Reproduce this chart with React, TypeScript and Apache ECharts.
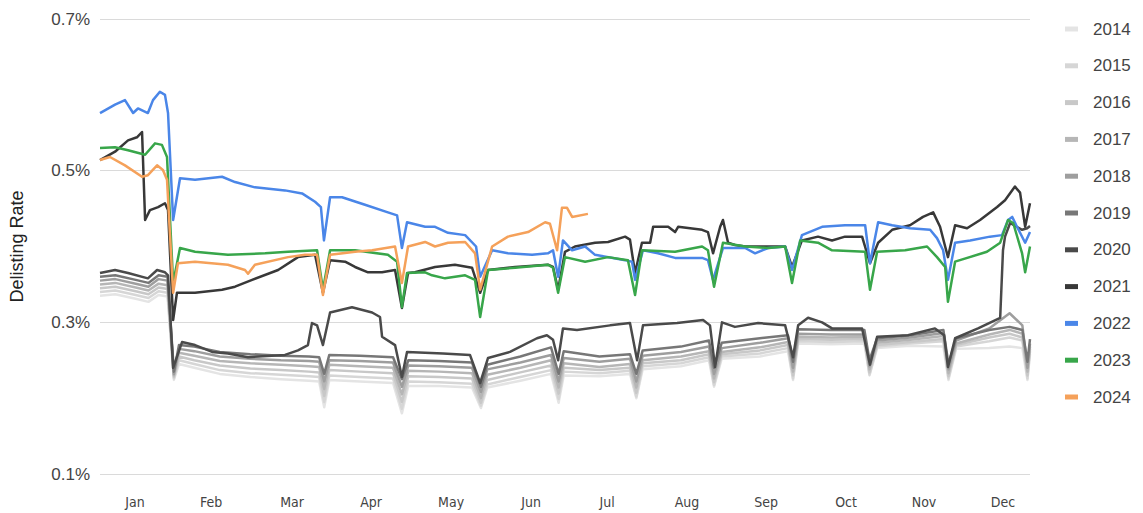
import React, { useEffect, useRef } from "react";
import * as echarts from "echarts";

const years = ["2014", "2015", "2016", "2017", "2018", "2019", "2020", "2021", "2022", "2023", "2024"];
const lineColors = ["#e4e4e4", "#d6d6d6", "#c8c8c8", "#b6b6b6", "#9e9e9e", "#777777", "#4a4a4a", "#383838", "#4a86e8", "#38a64a", "#f5a15a"];
const monthNames = ["Jan", "Feb", "Mar", "Apr", "May", "Jun", "Jul", "Aug", "Sep", "Oct", "Nov", "Dec"];
const monthLabelDays = [13.7, 43.6, 75.4, 106.4, 137.8, 169.2, 199, 230.4, 261.4, 292.8, 323.4, 354.4];
const yTicks = [0.1, 0.3, 0.5, 0.7];

// day-of-year positions shared by the 2014-2019 series
const grayDays = [0, 6, 14, 19, 23, 26.5, 29, 31, 37, 47, 59, 71, 82, 86, 88, 90, 102, 115, 118.5, 121, 133, 146, 149.5, 152, 165, 177, 180, 182, 196, 208, 210.5, 213, 228, 239, 241, 244, 259, 270, 272, 274, 287, 300, 302, 305, 318, 331, 333, 336, 349, 357, 362, 364, 365];

const rate2014 = [0.335, 0.337, 0.331, 0.327, 0.336, 0.334, 0.224, 0.245, 0.240, 0.232, 0.228, 0.225, 0.223, 0.222, 0.188, 0.224, 0.222, 0.220, 0.180, 0.216, 0.216, 0.214, 0.187, 0.214, 0.223, 0.232, 0.194, 0.230, 0.229, 0.232, 0.200, 0.238, 0.242, 0.250, 0.215, 0.252, 0.255, 0.262, 0.224, 0.272, 0.271, 0.272, 0.230, 0.266, 0.269, 0.268, 0.224, 0.265, 0.266, 0.268, 0.266, 0.224, 0.258];
const rate2015 = [0.340, 0.342, 0.336, 0.332, 0.341, 0.339, 0.226, 0.250, 0.245, 0.237, 0.233, 0.231, 0.229, 0.228, 0.195, 0.230, 0.228, 0.226, 0.186, 0.222, 0.221, 0.219, 0.190, 0.218, 0.228, 0.237, 0.199, 0.235, 0.233, 0.236, 0.202, 0.242, 0.246, 0.254, 0.217, 0.255, 0.259, 0.266, 0.226, 0.275, 0.274, 0.275, 0.231, 0.268, 0.272, 0.275, 0.226, 0.268, 0.275, 0.280, 0.276, 0.226, 0.262];
const rate2016 = [0.345, 0.347, 0.341, 0.337, 0.346, 0.344, 0.228, 0.255, 0.250, 0.243, 0.239, 0.237, 0.235, 0.234, 0.203, 0.237, 0.235, 0.233, 0.195, 0.229, 0.228, 0.226, 0.194, 0.224, 0.234, 0.243, 0.206, 0.240, 0.237, 0.240, 0.207, 0.246, 0.250, 0.258, 0.221, 0.258, 0.263, 0.270, 0.230, 0.278, 0.277, 0.278, 0.234, 0.270, 0.274, 0.278, 0.229, 0.270, 0.280, 0.285, 0.280, 0.230, 0.265];
const rate2017 = [0.350, 0.352, 0.346, 0.342, 0.351, 0.349, 0.230, 0.260, 0.256, 0.249, 0.246, 0.244, 0.242, 0.241, 0.212, 0.244, 0.242, 0.240, 0.205, 0.236, 0.235, 0.233, 0.200, 0.231, 0.240, 0.250, 0.214, 0.246, 0.241, 0.245, 0.214, 0.250, 0.255, 0.262, 0.226, 0.261, 0.267, 0.274, 0.235, 0.281, 0.280, 0.281, 0.238, 0.273, 0.277, 0.282, 0.233, 0.272, 0.284, 0.290, 0.285, 0.235, 0.268];
const rate2018 = [0.355, 0.357, 0.351, 0.347, 0.357, 0.355, 0.232, 0.265, 0.262, 0.255, 0.252, 0.250, 0.249, 0.248, 0.222, 0.250, 0.249, 0.247, 0.215, 0.243, 0.242, 0.240, 0.208, 0.238, 0.247, 0.257, 0.222, 0.253, 0.248, 0.252, 0.222, 0.256, 0.261, 0.268, 0.232, 0.266, 0.273, 0.279, 0.240, 0.285, 0.284, 0.284, 0.242, 0.276, 0.280, 0.286, 0.238, 0.276, 0.292, 0.312, 0.296, 0.240, 0.272];
const rate2019 = [0.360, 0.362, 0.356, 0.352, 0.362, 0.360, 0.235, 0.270, 0.268, 0.261, 0.258, 0.256, 0.255, 0.254, 0.232, 0.257, 0.256, 0.254, 0.225, 0.250, 0.249, 0.247, 0.215, 0.244, 0.255, 0.267, 0.232, 0.262, 0.255, 0.258, 0.232, 0.263, 0.268, 0.276, 0.240, 0.273, 0.279, 0.283, 0.248, 0.291, 0.290, 0.290, 0.250, 0.279, 0.283, 0.290, 0.245, 0.279, 0.290, 0.294, 0.290, 0.248, 0.278];

// [day of year, rate in %]
const rate2020 = [[0, 0.365], [5.9, 0.369], [11, 0.365], [18.8, 0.358], [22.4, 0.369], [25.5, 0.366], [26.7, 0.362], [28.7, 0.240], [32.2, 0.274], [37.3, 0.270], [44, 0.261], [50.2, 0.259], [58.1, 0.254], [72.6, 0.257], [77.7, 0.263], [81.6, 0.270], [83.2, 0.299], [85.2, 0.296], [87.5, 0.270], [90.3, 0.313], [98.9, 0.320], [106.8, 0.313], [109.9, 0.307], [110.7, 0.281], [115.8, 0.270], [118.5, 0.228], [120.5, 0.261], [134.6, 0.259], [145.2, 0.257], [149.2, 0.220], [152.3, 0.253], [160.9, 0.261], [171.5, 0.279], [175.4, 0.283], [177.8, 0.277], [179.8, 0.250], [181.7, 0.292], [187.2, 0.290], [200.2, 0.296], [208, 0.299], [210.8, 0.250], [213.1, 0.296], [226.5, 0.299], [236.7, 0.303], [239.4, 0.296], [241.4, 0.241], [244.1, 0.300], [249.2, 0.294], [258.3, 0.299], [268.9, 0.296], [272, 0.254], [274, 0.296], [277.9, 0.306], [283.4, 0.300], [287.3, 0.292], [299.1, 0.292], [302.2, 0.244], [305, 0.281], [317.1, 0.283], [327.7, 0.292], [331.3, 0.283], [332.8, 0.241], [335.6, 0.279], [344.6, 0.292], [353.3, 0.306], [354.4, 0.395], [355.2, 0.413], [357.2, 0.431], [361.9, 0.422], [363.9, 0.424], [365, 0.427]];

const rate2021 = [[0, 0.514], [5.9, 0.525], [11, 0.540], [14.5, 0.544], [16.5, 0.551], [17.7, 0.435], [19.6, 0.448], [22.8, 0.452], [25.5, 0.457], [26.7, 0.448], [28.7, 0.303], [30.2, 0.339], [37.3, 0.339], [47.9, 0.343], [53, 0.347], [59.7, 0.356], [69.9, 0.369], [77.7, 0.386], [84.4, 0.389], [87.5, 0.339], [90.3, 0.382], [96.2, 0.380], [100.1, 0.373], [105.2, 0.366], [110.7, 0.366], [115.8, 0.369], [118.5, 0.319], [120.9, 0.365], [123.6, 0.366], [131.5, 0.373], [139.3, 0.376], [146, 0.372], [149.2, 0.339], [152.3, 0.369], [162.9, 0.373], [175.8, 0.376], [177.8, 0.373], [179.8, 0.343], [182.5, 0.393], [186.4, 0.400], [194.3, 0.405], [199.4, 0.406], [206.1, 0.413], [208, 0.409], [210, 0.365], [212.7, 0.405], [215.9, 0.405], [217.1, 0.426], [223, 0.426], [225.7, 0.419], [226.9, 0.426], [236.3, 0.422], [238.6, 0.419], [240.6, 0.391], [243.4, 0.426], [244.5, 0.435], [246.5, 0.405], [249.2, 0.402], [253.2, 0.400], [268.9, 0.400], [271.6, 0.373], [275.5, 0.408], [281.8, 0.413], [287.3, 0.408], [292.4, 0.413], [299.1, 0.413], [302.2, 0.378], [305.4, 0.405], [310.9, 0.422], [317.9, 0.428], [323, 0.439], [327, 0.445], [329.7, 0.426], [331.7, 0.400], [332.8, 0.386], [335.6, 0.428], [340.3, 0.424], [345.4, 0.435], [352.1, 0.452], [355.2, 0.461], [359.1, 0.479], [361.1, 0.471], [363.1, 0.426], [365, 0.457]];

const rate2022 = [[0, 0.576], [5.9, 0.587], [9.8, 0.593], [13, 0.576], [14.9, 0.582], [18.8, 0.576], [20.8, 0.593], [23.5, 0.604], [25.5, 0.600], [26.7, 0.576], [28.7, 0.435], [31.4, 0.490], [37.3, 0.488], [47.9, 0.492], [53, 0.485], [60.8, 0.478], [72.6, 0.474], [79.3, 0.470], [84.4, 0.459], [86.7, 0.452], [87.9, 0.408], [90.3, 0.465], [95, 0.465], [104, 0.455], [113, 0.445], [116.6, 0.441], [118.5, 0.398], [120.5, 0.432], [127.6, 0.426], [131.5, 0.426], [136.6, 0.418], [143.3, 0.415], [147.6, 0.400], [149.2, 0.360], [153.9, 0.395], [160.1, 0.391], [169.6, 0.389], [175.8, 0.391], [177.8, 0.395], [179.8, 0.360], [181.7, 0.408], [185.3, 0.395], [190.4, 0.400], [194.3, 0.389], [206.1, 0.382], [208.8, 0.380], [210, 0.356], [213.1, 0.395], [219, 0.391], [225.7, 0.385], [236.3, 0.385], [238.6, 0.382], [240.6, 0.356], [244.5, 0.398], [253.2, 0.398], [257.1, 0.391], [262.2, 0.398], [268.9, 0.400], [271.6, 0.369], [275.5, 0.415], [283.4, 0.426], [292.4, 0.428], [300.3, 0.428], [302.2, 0.378], [305.4, 0.432], [310.9, 0.428], [317.9, 0.424], [325.8, 0.422], [328.5, 0.411], [330.9, 0.395], [332.8, 0.356], [335.6, 0.405], [341.5, 0.408], [349.3, 0.413], [354, 0.415], [356.4, 0.435], [358, 0.439], [359.9, 0.426], [363.1, 0.405], [365, 0.419]];

const rate2023 = [[0, 0.530], [5.9, 0.531], [11, 0.527], [17.7, 0.521], [21.6, 0.536], [24.3, 0.534], [26.3, 0.518], [28.7, 0.352], [31.4, 0.398], [37.3, 0.393], [50.2, 0.389], [64.8, 0.391], [73.8, 0.393], [85.2, 0.395], [87.5, 0.343], [90.3, 0.395], [100.1, 0.395], [113, 0.389], [116.6, 0.380], [118.5, 0.320], [120.5, 0.365], [127.6, 0.366], [130.3, 0.362], [135.4, 0.358], [143.3, 0.362], [147.2, 0.356], [149.2, 0.307], [152.3, 0.369], [162.9, 0.372], [175.8, 0.376], [177.8, 0.372], [179.8, 0.339], [182.5, 0.386], [190.4, 0.380], [199.4, 0.386], [207.2, 0.382], [210, 0.336], [212.7, 0.395], [225.7, 0.393], [236.3, 0.400], [238.6, 0.395], [241, 0.347], [244.5, 0.405], [253.2, 0.400], [262.2, 0.398], [268.9, 0.400], [271.6, 0.352], [274.8, 0.408], [281.8, 0.405], [287.3, 0.395], [300.3, 0.393], [302.2, 0.343], [305, 0.393], [316, 0.395], [324.6, 0.400], [328.5, 0.386], [331.7, 0.373], [332.8, 0.327], [335.6, 0.380], [348.1, 0.393], [353.3, 0.405], [356.4, 0.435], [358.4, 0.431], [361.9, 0.391], [363.1, 0.366], [365, 0.400]];

const rate2024 = [[0, 0.514], [3.9, 0.518], [9.8, 0.507], [16.5, 0.492], [18.8, 0.494], [22.4, 0.507], [24.7, 0.501], [26.3, 0.488], [28.7, 0.339], [30.6, 0.378], [37.3, 0.380], [50.2, 0.376], [56.9, 0.369], [58.1, 0.364], [60.8, 0.376], [73.8, 0.386], [80.5, 0.389], [85.2, 0.389], [87.5, 0.336], [90.3, 0.389], [100.1, 0.393], [106.8, 0.395], [115.8, 0.400], [118.5, 0.352], [120.9, 0.400], [127.6, 0.406], [131.5, 0.400], [136.6, 0.405], [143.3, 0.406], [147.2, 0.391], [149.2, 0.343], [153.9, 0.400], [160.1, 0.413], [168, 0.419], [174.7, 0.432], [176.6, 0.430], [179.4, 0.395], [181.3, 0.451], [183.3, 0.451], [185.3, 0.439], [191.5, 0.443]];

const grayRates = [rate2014, rate2015, rate2016, rate2017, rate2018, rate2019];
const pairRates = [rate2020, rate2021, rate2022, rate2023, rate2024];

export default function App() {
  const ref = useRef<HTMLDivElement>(null);
  useEffect(() => {
    if (!ref.current) return;
    const chart = echarts.init(ref.current, null, { renderer: "svg" });
    const seriesData = [
      ...grayRates.map((vals) => grayDays.map((d, i) => [d, vals[i]])),
      ...pairRates,
    ];
    const series: any[] = [
      {
        type: "line",
        name: "grid",
        data: [],
        silent: true,
        z: 1,
        markLine: {
          silent: true,
          symbol: "none",
          animation: false,
          label: { show: false },
          lineStyle: { color: "#dadada", type: "solid", width: 1 },
          data: yTicks.map((v) => ({ yAxis: v })),
        },
      },
      ...years.map((y, i) => ({
        type: "line",
        name: y,
        data: seriesData[i],
        showSymbol: false,
        symbol: "none",
        smooth: false,
        z: 2 + i,
        color: lineColors[i],
        lineStyle: { width: 2.5, color: lineColors[i], join: "round" },
      })),
    ];
    chart.setOption({
      animation: false,
      grid: { left: 100, right: 113, top: 19, bottom: 39 },
      legend: {
        data: years,
        orient: "vertical",
        left: 1060,
        top: 15,
        icon: "rect",
        itemWidth: 13,
        itemHeight: 5,
        itemGap: 18.8,
        selectedMode: false,
        textStyle: {
          fontSize: 17,
          color: "#444",
          fontFamily: "'Liberation Sans', Arial, sans-serif",
          padding: [0, 0, 0, 10],
          lineHeight: 18,
        },
      },
      xAxis: {
        type: "value",
        min: 0,
        max: 365,
        axisLine: { show: false },
        axisTick: { show: false },
        splitLine: { show: false },
        axisLabel: {
          customValues: monthLabelDays,
          margin: 21,
          fontSize: 14,
          color: "#444",
          fontFamily: "'Liberation Sans Narrow', 'DejaVu Sans Condensed', Roboto, sans-serif",
          formatter: (v: number) => {
            let best = 0;
            monthLabelDays.forEach((d, i) => {
              if (Math.abs(d - v) < Math.abs(monthLabelDays[best] - v)) best = i;
            });
            return monthNames[best];
          },
        },
      },
      yAxis: {
        type: "value",
        min: 0.1,
        max: 0.7,
        name: "Delisting Rate",
        nameLocation: "middle",
        nameRotate: 90,
        nameGap: 74,
        nameTextStyle: { fontSize: 18, color: "#222", fontFamily: "'Liberation Sans', Arial, sans-serif" },
        axisLine: { show: false },
        axisTick: { show: false },
        splitLine: { show: false },
        axisLabel: {
          customValues: yTicks,
          margin: 10,
          fontSize: 17,
          color: "#444",
          fontFamily: "'Liberation Sans', Arial, sans-serif",
          formatter: (v: number) => v.toFixed(1) + "%",
        },
      },
      series,
    });
    return () => chart.dispose();
  }, []);
  return (
    <div
      ref={ref}
      style={{ position: "absolute", left: 0, top: 0, width: 1143, height: 513, background: "#fff" }}
    />
  );
}
